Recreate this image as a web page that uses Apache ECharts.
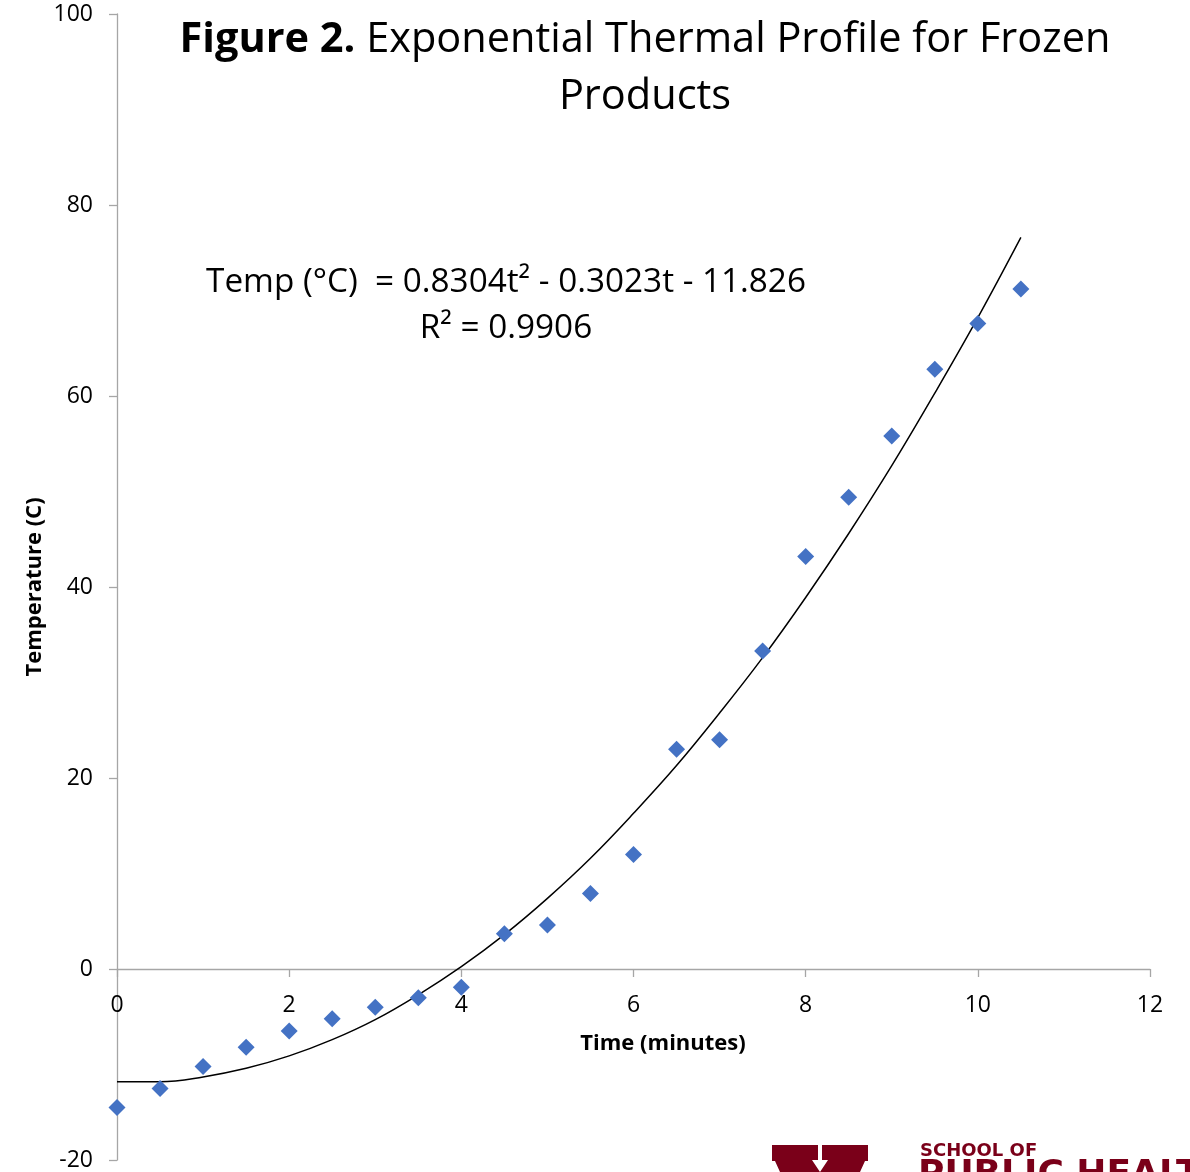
<!DOCTYPE html>
<html><head><meta charset="utf-8">
<script src="https://cdn.jsdelivr.net/npm/echarts@6/dist/echarts.min.js"></script>
<style>html,body{margin:0;padding:0;background:#fff}#c{width:1190px;height:1172px}</style>
</head><body><div id="c"></div>
<script>
// Measured data (time in minutes, temperature in °C)
const times = [0,0.5,1,1.5,2,2.5,3,3.5,4,4.5,5,5.5,6,6.5,7,7.5,8,8.5,9,9.5,10,10.5];
const temps = [-14.5,-12.5,-10.2,-8.2,-6.5,-5.2,-4.0,-3.0,-1.9,3.7,4.6,7.9,12.0,23.0,24.0,33.3,43.2,49.4,55.8,62.8,67.6,71.2];
// Trendline as drawn in the figure (read at the same times)
const trendTimes = [0,0.5,1,1.5,2,2.5,3,3.5,4,4.5,5,5.5,6,6.5,7,7.5,8,8.5,9,9.5,10,10.5];
const trendTemps = [-11.8,-11.8,-11.3,-10.4,-9.1,-7.4,-5.3,-2.7,0.25,3.6,7.4,11.6,16.3,21.3,26.8,32.6,38.9,45.6,52.7,60.3,68.2,76.6];
const xTicks = [0,2,4,6,8,10,12];
const yTicks = [-20,0,20,40,60,80,100];
const titleBold = 'Figure 2.';
const titleRest = ' Exponential Thermal Profile for Frozen';
const titleLine2 = 'Products';
const eqLine1 = 'Temp (°C)  = 0.8304t² - 0.3023t - 11.826';
const eqLine2 = 'R² = 0.9906';
const xName = 'Time (minutes)';
const yName = 'Temperature (C)';

const FONT = '"Open Sans", sans-serif';
const chart = echarts.init(document.getElementById('c'));
const axisColor = '#a6a6a6';
const gridTop = 14, gridBottom = 12, H = 1172;
const plotH = H - gridTop - gridBottom;
const yMin = yTicks[0], yMax = yTicks[yTicks.length-1];
// place x axis at y = 0
const xAxisOffset = -plotH * (0 - yMin) / (yMax - yMin);
chart.setOption({
  animation: false,
  grid: {left: 117, right: 40, top: gridTop, bottom: gridBottom, containLabel: false, outerBoundsMode: 'none'},
  xAxis: {
    type: 'value', min: xTicks[0], max: xTicks[xTicks.length-1], interval: 2,
    offset: xAxisOffset,
    axisLine: {show: true, onZero: false, lineStyle: {color: axisColor, width: 1.3}},
    axisTick: {show: true, length: 8, lineStyle: {color: axisColor, width: 1.3}},
    axisLabel: {margin: 25, fontSize: 23, color: '#000', fontFamily: FONT},
    splitLine: {show: false}
  },
  yAxis: {
    type: 'value', min: yMin, max: yMax, interval: 20,
    axisLine: {show: true, onZero: false, lineStyle: {color: axisColor, width: 1.3}},
    axisTick: {show: true, length: 8, lineStyle: {color: axisColor, width: 1.3}},
    axisLabel: {margin: 24, fontSize: 23, color: '#000', fontFamily: FONT},
    splitLine: {show: false}
  },
  series: [
    {
      type: 'line', data: trendTimes.map((t,i)=>[t, trendTemps[i]]),
      smooth: 0.4, showSymbol: false, lineStyle: {color: '#000', width: 1.5}, z: 2
    },
    {
      type: 'scatter', data: times.map((t,i)=>[t, temps[i]]),
      symbol: 'diamond', symbolSize: 17, itemStyle: {color: '#4472C4', opacity: 1}, z: 3
    }
  ],
  graphic: [
    {type: 'text', x: 645, y: 40, style: {
      text: '{b|' + titleBold + '}{n|' + titleRest + '}', align: 'center', verticalAlign: 'middle',
      rich: {b: {fontSize: 41.5, fontWeight: 'bold', fontFamily: FONT, fill: '#000'},
             n: {fontSize: 41.5, fontFamily: FONT, fill: '#000'}}
    }},
    {type: 'text', x: 645, y: 97, style: {text: titleLine2, fontSize: 41.5, fontFamily: FONT, fill: '#000', align: 'center', verticalAlign: 'middle'}},
    {type: 'text', x: 506, y: 283, style: {text: eqLine1, fontSize: 33.3, fontFamily: FONT, fill: '#000', align: 'center', verticalAlign: 'middle'}},
    {type: 'text', x: 506, y: 329, style: {text: eqLine2, fontSize: 33.3, fontFamily: FONT, fill: '#000', align: 'center', verticalAlign: 'middle'}},
    {type: 'text', x: 663, y: 1044, style: {text: xName, fontSize: 22, fontWeight: 'bold', fontFamily: FONT, fill: '#000', align: 'center', verticalAlign: 'middle'}},
    {type: 'text', x: 35, y: 587, rotation: Math.PI/2, style: {text: yName, fontSize: 22, fontWeight: 'bold', fontFamily: FONT, fill: '#000', align: 'center', verticalAlign: 'middle'}},
    // logo
    {type: 'polygon', shape: {points: [[772,1145],[818,1145],[818,1160],[812,1160],[820,1172],[780,1172],[775,1161],[772,1161]]}, style: {fill: '#7a0019'}},
    {type: 'polygon', shape: {points: [[822,1145],[868,1145],[868,1161],[865,1161],[860,1172],[820,1172],[828,1160],[822,1160]]}, style: {fill: '#7a0019'}},
    {type: 'text', x: 920, y: 1151, style: {text: 'SCHOOL OF', fontSize: 18, fontWeight: 'bold', fontFamily: '"DejaVu Sans", sans-serif', fill: '#7a0019', verticalAlign: 'middle'}},
    {type: 'text', x: 918, y: 1158, style: {text: 'PUBLIC HEALTH', fontSize: 36, fontWeight: 'bold', fontFamily: '"DejaVu Sans", sans-serif', fill: '#7a0019', verticalAlign: 'top'}}
  ]
});
</script></body></html>
